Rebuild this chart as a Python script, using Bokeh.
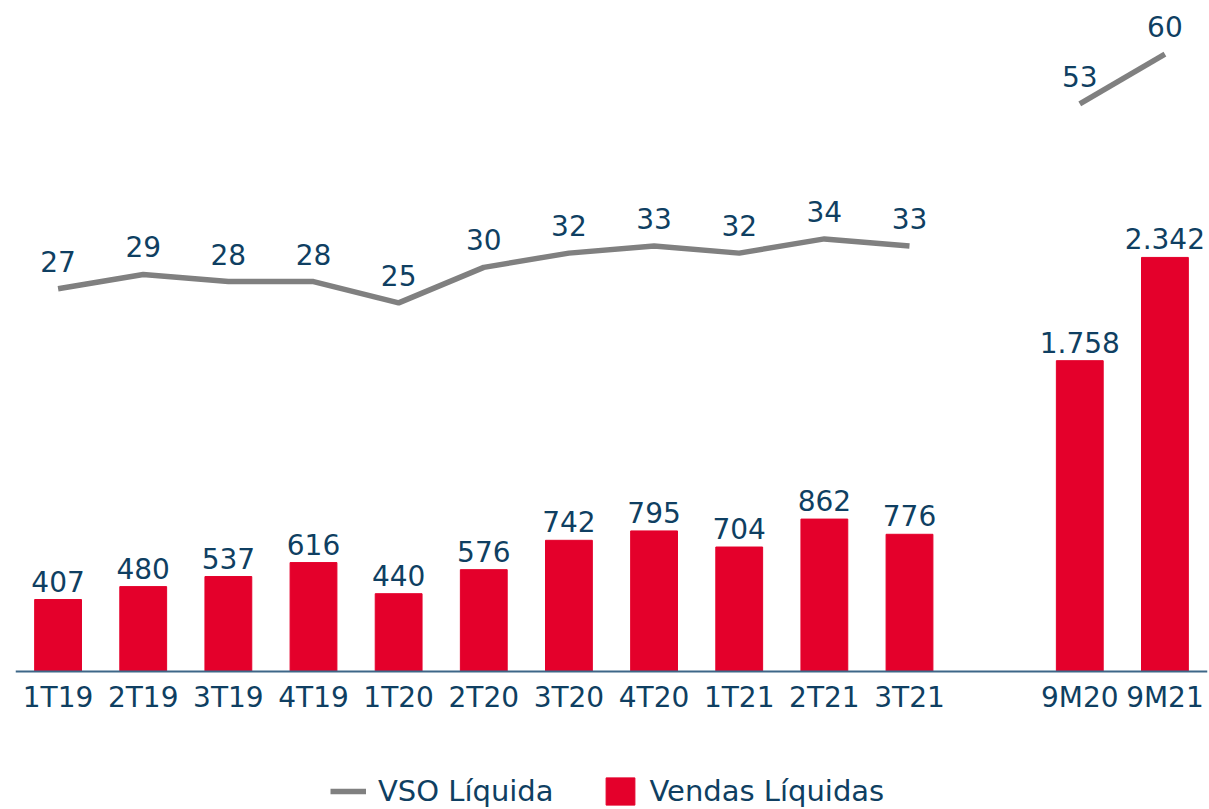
from bokeh.plotting import figure
from bokeh.models import (ColumnDataSource, Range1d, FactorRange, LabelSet,
                          Legend, LegendItem, Span)
from bokeh.core.properties import value
from bokeh.embed import file_html
from bokeh.resources import INLINE

# ---- data ----
quarters = ["1T19", "2T19", "3T19", "4T19", "1T20", "2T20", "3T20",
            "4T20", "1T21", "2T21", "3T21"]
nine_months = ["9M20", "9M21"]
sales_quarters = [407, 480, 537, 616, 440, 576, 742, 795, 704, 862, 776]
sales_nine = [1758, 2342]
vso_quarters = [27, 29, 28, 28, 25, 30, 32, 33, 32, 34, 33]
vso_nine = [53, 60]

FONT = "DejaVu Sans"
NAVY = "#0f3f62"
RED = "#e4002b"
GREY = "#808080"
FS = "28px"

def fmt(v):
    return "{:,}".format(v).replace(",", ".")

gap = " "
factors = quarters + [gap] + nine_months

p = figure(frame_width=1192, frame_height=800,
           x_range=FactorRange(*factors, range_padding=0),
           y_range=Range1d(-775, 3750), output_backend="svg", toolbar_location=None,
           x_axis_location=None, y_axis_location=None,
           min_border_left=15, min_border_right=1,
           min_border_top=8, min_border_bottom=0)
p.extra_y_ranges = {"vso": Range1d(-46.1, 66.4)}

bars_src = ColumnDataSource(dict(
    x=quarters + nine_months,
    y=sales_quarters + sales_nine,
    lab=[fmt(v) for v in sales_quarters + sales_nine]))
bars = p.vbar(x="x", top="y", bottom=0, width=0.55, source=bars_src, color=RED)

lq_src = ColumnDataSource(dict(x=quarters, y=vso_quarters,
                               lab=[str(v) for v in vso_quarters]))
ln_src = ColumnDataSource(dict(x=nine_months, y=vso_nine,
                               lab=[str(v) for v in vso_nine]))
line1 = p.line("x", "y", source=lq_src, y_range_name="vso", color=GREY, line_width=5.5)
p.line("x", "y", source=ln_src, y_range_name="vso", color=GREY, line_width=5.5)

for src, rng, off in [(bars_src, "default", 8), (lq_src, "vso", 17), (ln_src, "vso", 17)]:
    p.add_layout(LabelSet(x="x", y="y", text="lab", source=src, y_range_name=rng,
                          y_offset=off, text_align="center", text_baseline="bottom",
                          text_font=value(FONT), text_font_size=value(FS),
                          text_color=NAVY))

# baseline (category axis line)
p.add_layout(Span(location=0, dimension="width", line_color="#3d6788", line_width=2))

# category tick labels
cat_src = ColumnDataSource(dict(x=quarters + nine_months,
                                y=[0] * (len(quarters) + len(nine_months)),
                                lab=quarters + nine_months))
p.add_layout(LabelSet(x="x", y="y", text="lab", source=cat_src, y_offset=-26,
                      text_align="center", text_baseline="middle",
                      text_font=value(FONT), text_font_size=value(FS),
                      text_color=NAVY))

p.xgrid.visible = False
p.ygrid.visible = False
p.outline_line_color = None

legend = Legend(items=[LegendItem(label="VSO Líquida", renderers=[line1]),
                       LegendItem(label="Vendas Líquidas", renderers=[bars])],
                orientation="horizontal", location=(315, 0),
                label_text_font=FONT, label_text_font_size="29px",
                label_text_color=NAVY, glyph_width=36, glyph_height=34,
                spacing=48, label_standoff=12, border_line_color=None,
                background_fill_alpha=0, margin=0, padding=0)
p.add_layout(legend, "center")

open("out.html", "w").write(file_html(p, INLINE))
